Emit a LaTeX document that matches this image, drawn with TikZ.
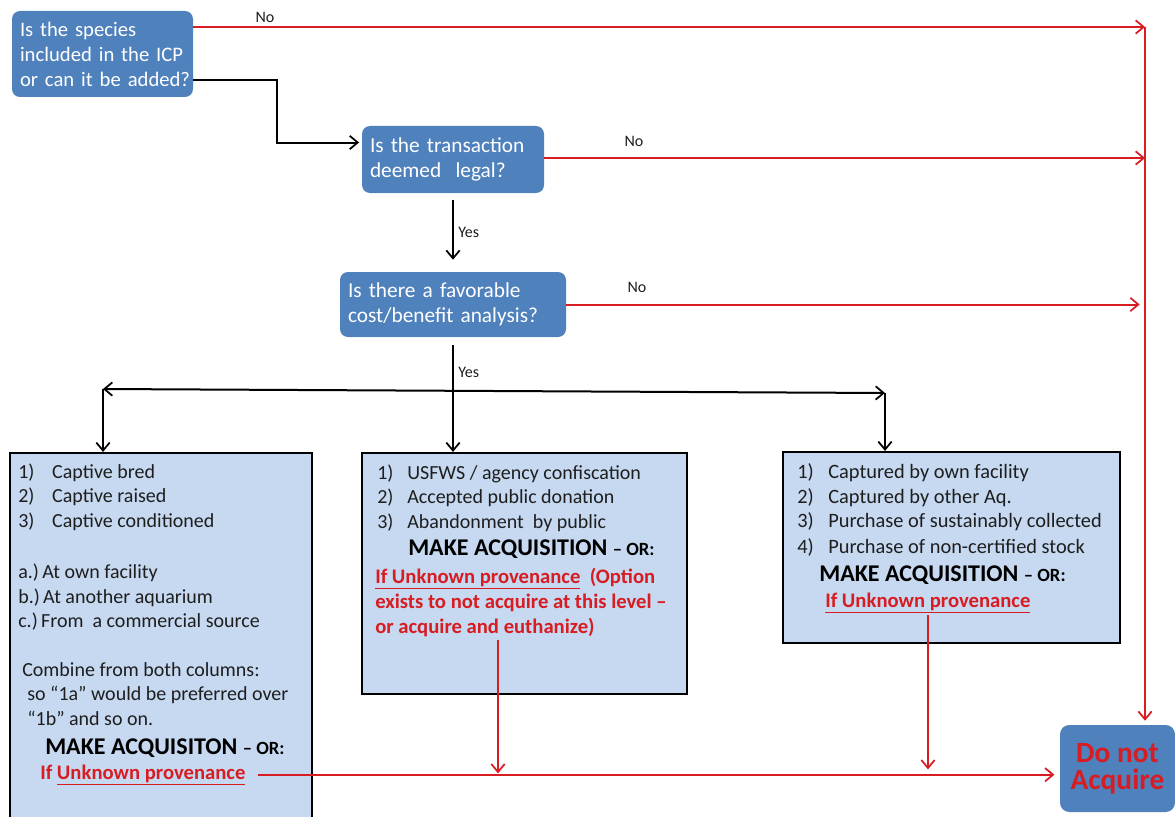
\documentclass[tikz,border=0pt]{standalone}
\usepackage{fontspec}
\setmainfont{Carlito}
\usetikzlibrary{arrows.meta,calc}
\definecolor{qblue}{RGB}{79,129,189}
\definecolor{lblue}{RGB}{198,217,241}
\definecolor{ared}{RGB}{215,28,34}
\definecolor{tgrey}{RGB}{30,30,30}
\begin{document}
\begin{tikzpicture}[x=0.75pt,y=-0.75pt,
  qbox/.style={fill=qblue, rounded corners=6pt, inner xsep=6pt, inner ysep=0pt, align=left, text=white,
    font=\fontsize{16}{18.75}\selectfont},
  listbox/.style={fill=lblue, draw=black, line width=1.6pt},
  dnabox/.style={fill=qblue, rounded corners=7pt, inner sep=0pt, align=center, text=ared,
    font=\fontsize{22}{20.5}\selectfont\bfseries},
  txt/.style={anchor=base west, inner sep=0pt, text=tgrey, font=\fontsize{15}{18}\selectfont},
  mk/.style={anchor=base west, inner sep=0pt, text=black, font=\fontsize{18}{20}\selectfont\bfseries},
  rt/.style={anchor=base west, inner sep=0pt, text=ared, font=\fontsize{15.5}{18.4}\selectfont\bfseries},
  lbl/.style={inner sep=0pt, text=tgrey, font=\fontsize{12}{14}\selectfont},
  tip/.style={arrows={-Straight Barb[length=6pt,width=10pt,line width=1.3pt]}},
  blk/.style={draw=black, line width=1.5pt, tip},
  rd/.style={draw=ared, line width=1.5pt, tip},
]
\path[use as bounding box, clip] (0,0) rectangle (1175,817);

% decision boxes
\node[qbox, minimum width=135.75pt, minimum height=64.5pt, text width=123.75pt,
      font=\fontsize{15.5}{18.75}\selectfont] (q1) at (102.5,54)
  {\mbox{Is the species}\\\mbox{included in the ICP}\\\mbox{or can it be added?}};
\node[qbox, minimum width=136.5pt, minimum height=50.25pt, text width=124.5pt] (q2) at (453,159.5)
  {\mbox{Is the transaction}\\\mbox{deemed\ \ legal?}};
\node[qbox, minimum width=169.5pt, minimum height=48.75pt, text width=157.5pt] (q3) at (453,304.5)
  {\mbox{Is there a favorable}\\\mbox{cost/benefit analysis?}};
\node[dnabox, minimum width=86.25pt, minimum height=65.25pt] (dna) at (1117.5,768.5) {Do not\\Acquire};

% list boxes
\node[listbox, minimum width=226.5pt, minimum height=282.75pt] (b1) at (161,641.5) {};
\node[listbox, minimum width=243.75pt, minimum height=180.75pt] (b2) at (524.5,573.5) {};
\node[listbox, minimum width=252.75pt, minimum height=143.25pt] (b3) at (951.5,547.5) {};

% box 1 text
\node[txt] (b1a) at (18,478) {\makebox[25.5pt][l]{1)}Captive bred};
\node[txt] (b1b) at (18,502) {\makebox[25.5pt][l]{2)}Captive raised};
\node[txt] (b1c) at (18,527) {\makebox[25.5pt][l]{3)}Captive conditioned};
\node[txt] (b1d) at (18,578) {a.)\,At own facility};
\node[txt] (b1e) at (18,603) {b.)\,At another aquarium};
\node[txt] (b1f) at (18,627) {c.)\,From\ \ a commercial source};
\node[txt] (b1g) at (22,676) {Combine from both columns:};
\node[txt] (b1h) at (27,700) {so “1a” would be preferred over};
\node[txt] (b1i) at (27,725) {“1b” and so on.};
\node[mk]  (b1m) at (45,754) {MAKE ACQUISITON {\fontsize{14}{15}\selectfont – OR:}};
\node[rt]  (b1u) at (40,779) {If \underline{Unknown provenance}};

% box 2 text
\node[txt] (b2a) at (377,479) {\makebox[22.5pt][l]{1)}USFWS / agency confiscation};
\node[txt] (b2b) at (377,503) {\makebox[22.5pt][l]{2)}Accepted public donation};
\node[txt] (b2c) at (377,528) {\makebox[22.5pt][l]{3)}Abandonment\ \ by public};
\node[mk]  (b2m) at (408,555) {MAKE ACQUISITION {\fontsize{14}{15}\selectfont – OR:}};
\node[rt]  (b2u) at (375,583) {\underline{If Unknown provenance}\ \ (Option};
\node[rt]  (b2v) at (375,608) {exists to not acquire at this level –};
\node[rt]  (b2w) at (375,633) {or acquire and euthanize)};

% box 3 text
\node[txt, font=\fontsize{15.3}{18}\selectfont] (b3a) at (797,478) {\makebox[23.25pt][l]{1)}Captured by own facility};
\node[txt, font=\fontsize{15.3}{18}\selectfont] (b3b) at (797,503) {\makebox[23.25pt][l]{2)}Captured by other\ Aq.};
\node[txt, font=\fontsize{15.3}{18}\selectfont] (b3c) at (797,527) {\makebox[23.25pt][l]{3)}Purchase of sustainably collected};
\node[txt, font=\fontsize{15.3}{18}\selectfont] (b3d) at (797,553) {\makebox[23.25pt][l]{4)}Purchase of non-certified stock};
\node[mk]  (b3m) at (819,581) {MAKE ACQUISITION {\fontsize{14}{15}\selectfont – OR:}};
\node[rt]  (b3u) at (825,607) {\underline{If Unknown provenance}};

% labels
\node[lbl] (no1) at (265,17) {No};
\node[lbl] (no2) at (634,141) {No};
\node[lbl] (no3) at (637,287) {No};
\node[lbl, anchor=west] (yes1) at (458,232) {Yes};
\node[lbl, anchor=west] (yes2) at (458,372) {Yes};

% coordinates
\coordinate (rail) at (1145,27);
\coordinate (kx) at (277,0);
\coordinate (k1) at ($(q1.east)+(0,26)$);
\coordinate (k2) at ($(q2.west)+(0,-17)$);
\coordinate (n1) at ($(q1.east)+(0,-27)$);
\coordinate (n2) at ($(q2.east)+(0,-1.5)$);
\coordinate (L) at (103,389);
\coordinate (R) at (885,393);
\coordinate (v2) at (498,640);
\coordinate (v3) at (928,615);

% black connectors
\draw[blk] (k1) -- (k1 -| kx) -- (k2 -| kx) -- ([xshift=-2pt]k2);
\draw[blk, shorten <=5pt, shorten >=9pt] (q2.south) -- (q3.north);
\draw[blk, shorten <=6pt] (q3.south) -- (q3.south |- b2.north);
\draw[draw=black, line width=1.5pt, arrows={Straight Barb[length=6pt,width=10pt,line width=1.3pt]-Straight Barb[length=6pt,width=10pt,line width=1.3pt]}] (L) -- (R);
\draw[blk] (L) -- (L |- b1.north);
\draw[blk] (R) -- (R |- b3.north);

% red connectors
\draw[rd] (n1) -- (n1 -| rail);
\draw[rd] (n2) -- (n2 -| rail);
\draw[rd, shorten >=4pt] (q3.east) -- (q3.east -| rail);
\draw[rd, shorten >=3pt] (rail) -- (rail |- dna.north);
\draw[rd, shorten <=9pt, shorten >=4pt] (b1u.east) -- (b1u.east -| dna.west);
\draw[rd, shorten >=1pt] (v2) -- (v2 |- b1u.east);
\draw[rd, shorten >=4pt] (v3) -- (v3 |- b1u.east);
\end{tikzpicture}
\end{document}
